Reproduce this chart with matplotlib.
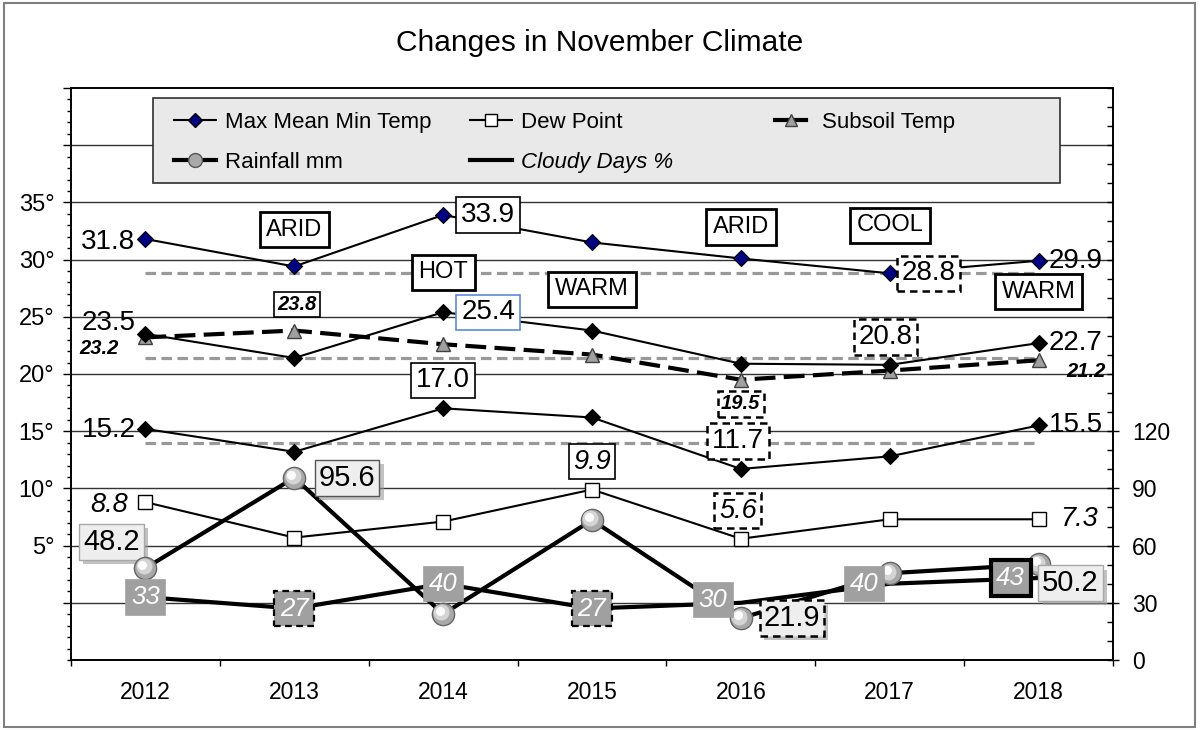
import matplotlib
matplotlib.use('Agg')
import matplotlib.pyplot as plt
from matplotlib.lines import Line2D
from matplotlib.patches import Rectangle
from matplotlib.ticker import FixedLocator, MultipleLocator, FuncFormatter, FixedFormatter, NullFormatter
from matplotlib.transforms import ScaledTranslation
import matplotlib.patheffects as pe

plt.rcParams['font.family'] = ['Liberation Sans', 'DejaVu Sans']

# ---------------- data ----------------
years = ['2012', '2013', '2014', '2015', '2016', '2017', '2018']
max_temp = [31.8, 29.4, 33.9, 31.5, 30.1, 28.8, 29.9]
mean_temp = [23.5, 21.4, 25.4, 23.8, 20.9, 20.8, 22.7]
min_temp = [15.2, 13.2, 17.0, 16.2, 11.7, 12.8, 15.5]
dew_point = [8.8, 5.7, 7.1, 9.9, 5.6, 7.3, 7.3]
subsoil = [23.2, 23.8, 22.6, 21.7, 19.5, 20.3, 21.2]
rainfall = [48.2, 95.6, 24.1, 73.4, 21.9, 45.5, 50.2]
cloudy = [33, 27, 40, 27, 30, 40, 43]
avg_max, avg_mean, avg_min = 28.8, 21.4, 14.0
conditions = ['', 'ARID', 'HOT', 'WARM', 'ARID', 'COOL', 'WARM']
left_ticks = [0, 5, 10, 15, 20, 25, 30, 35, 40, 45]
right_ticks = [0, 30, 60, 90, 120]

# ---------------- layout ----------------
W, H = 1200, 730
fig = plt.figure(figsize=(12, 7.3), dpi=100)
ax = fig.add_axes([71 / W, 70 / H, 1042 / W, 572 / H])
ax2 = ax.twinx()
x = list(range(len(years)))
ax.set_xlim(-0.5, len(years) - 0.5)
ax.set_ylim(-5, 45)
ax2.set_ylim(0, 300)

for a in (ax, ax2):
    for s in a.spines.values():
        s.set_linewidth(1.2)
        s.set_color('black')

for v in left_ticks[:-1]:
    ax.axhline(v, color='#333333', lw=1, zorder=0.5)

# left axis ticks
ax.yaxis.set_major_locator(FixedLocator(left_ticks))
ax.yaxis.set_major_formatter(FuncFormatter(lambda v, p: f"{int(v)}°" if 5 <= v <= 35 else ''))
ax.yaxis.set_minor_locator(MultipleLocator(1))
ax.tick_params(axis='y', which='major', direction='out', length=6, width=1, labelsize=17, pad=6, right=False)
ax.tick_params(axis='y', which='minor', direction='out', length=3, width=1, right=False)

# bottom ticks
ax.xaxis.set_major_locator(FixedLocator([i - 0.5 for i in range(len(years) + 1)]))
ax.xaxis.set_major_formatter(NullFormatter())
ax.xaxis.set_minor_locator(FixedLocator(x))
ax.xaxis.set_minor_formatter(FixedFormatter(years))
ax.tick_params(axis='x', which='major', direction='out', length=4.5, width=1)
ax.tick_params(axis='x', which='minor', length=0, pad=15, labelsize=16.5)

# right axis ticks
ax2.yaxis.set_major_locator(FixedLocator(right_ticks))
ax2.yaxis.set_minor_locator(MultipleLocator(10))
ax2.tick_params(axis='y', which='major', direction='inout', length=9, width=1, labelsize=16.5, pad=9)
ax2.tick_params(axis='y', which='minor', direction='in', length=4.5, width=1)

# ---------------- series ----------------
for avg in (avg_max, avg_mean, avg_min):
    ax.plot([x[0], x[-1]], [avg, avg], color='#999999', lw=2.3, dashes=(3.3, 1.7), zorder=1)

ax.plot(x, subsoil, color='black', lw=3, dashes=(5, 2), marker='^', ms=10,
        mfc='#a0a0a0', mec='#404040', mew=1, zorder=2.5)
ax.plot(x, dew_point, color='black', lw=1.5, marker='s', ms=10.5, mfc='white', mec='black', mew=1, zorder=3)
ax.plot(x, max_temp, color='black', lw=1.5, marker='D', ms=8, mfc='#000080', mec='black', mew=0.8, zorder=3)
ax.plot(x, mean_temp, color='black', lw=1.5, marker='D', ms=8, mfc='black', mec='black', mew=0.8, zorder=3)
ax.plot(x, min_temp, color='black', lw=1.5, marker='D', ms=8, mfc='black', mec='black', mew=0.8, zorder=3)

ax2.plot(x, cloudy, color='black', lw=3, zorder=2)
ax2.plot(x, rainfall, color='black', lw=3, zorder=3)
ax2.plot(x, rainfall, ls='none', marker='o', ms=16, mfc='#a8a8a8', mec='#666666', mew=1, zorder=4)
ax2.plot(x, rainfall, ls='none', marker='o', ms=11.5, mfc='#d4d4d4', mec='none', zorder=4.1,
         transform=ax2.transData + ScaledTranslation(-1.2 / 72, 1.2 / 72, fig.dpi_scale_trans))
ax2.plot(x, rainfall, ls='none', marker='o', ms=6.5, mfc='#fbfbfb', mec='none', zorder=4.2,
         transform=ax2.transData + ScaledTranslation(-2.2 / 72, 2.2 / 72, fig.dpi_scale_trans))

# ---------------- labels ----------------
def box(kind):
    if kind == 'solid':
        return dict(boxstyle='square,pad=0.17', fc='white', ec='black', lw=1.2)
    if kind == 'dashed':
        return dict(boxstyle='square,pad=0.17', fc='white', ec='black', lw=1.8, ls=(0, (3, 2)))
    if kind == 'blue':
        return dict(boxstyle='square,pad=0.17', fc='white', ec='#5b8bd8', lw=1.2)
    return None


def tag(a, i, v, text, dx, dy, size, kind=None, ha='center', **kw):
    return a.annotate(text, (x[i], v), xytext=(dx, dy), textcoords='offset pixels',
                      ha=ha, va='center', fontsize=size, bbox=box(kind),
                      annotation_clip=False, zorder=6, **kw)


# (index, dx, dy, box kind, ha)
max_tags = [(0, -10, -3, None, 'right'), (2, 45, 0, 'solid', 'center'),
            (5, 39, 0, 'dashed', 'center'), (6, 10, 0, None, 'left')]
mean_tags = [(0, -10, 11, None, 'right'), (2, 45, 0, 'blue', 'center'),
             (5, -4, 28, 'dashed', 'center'), (6, 10, 0, None, 'left')]
min_tags = [(0, -10, -1, None, 'right'), (2, 0, 28, 'solid', 'center'),
            (4, -3, 28, 'dashed', 'center'), (6, 10, 0, None, 'left')]
dew_tags = [(0, -17, -3, None, 'right'), (3, 0, 28, 'solid', 'center'),
            (4, -3, 28, 'dashed', 'center'), (6, 22, 0, None, 'left')]
sub_tags = [(0, -27, -11, None, 'right'), (1, 3, 26, 'solid', 'center'),
            (4, 0, -24, 'dashed', 'center'), (6, 28, -11, None, 'left')]

for series, tags in ((max_temp, max_tags), (mean_temp, mean_tags), (min_temp, min_tags)):
    for i, dx, dy, kind, ha in tags:
        tag(ax, i, series[i], f"{series[i]:.1f}", dx, dy, 20, kind, ha)
for i, dx, dy, kind, ha in dew_tags:
    tag(ax, i, dew_point[i], f"{dew_point[i]:.1f}", dx, dy, 19.5, kind, ha, fontstyle='italic')
for i, dx, dy, kind, ha in sub_tags:
    tag(ax, i, subsoil[i], f"{subsoil[i]:.1f}", dx, dy, 14.5, kind, ha,
        fontstyle='italic', fontweight='bold')

# rainfall labels with shadow
rain_tags = [(0, -34, 26, '#a8a8a8', 1.0, '-'), (1, 53, 0, '#555555', 1.0, '-'),
             (4, 51, 0, 'black', 1.8, (0, (3, 2))), (6, 32, -19, '#a8a8a8', 1.0, '-')]
for i, dx, dy, ec, lw, ls in rain_tags:
    t = ax2.annotate(f"{rainfall[i]:.1f}", (x[i], rainfall[i]), xytext=(dx, dy),
                     textcoords='offset pixels', ha='center', va='center', fontsize=21,
                     zorder=6 if i else 3.5, annotation_clip=False,
                     bbox=dict(boxstyle='square,pad=0.13', fc='#eeeeee', ec=ec, lw=lw, ls=ls))
    t.get_bbox_patch().set_path_effects([
        pe.SimplePatchShadow(offset=(3, -3), shadow_rgbFace='#9a9a9a', alpha=0.6), pe.Normal()])

# cloudy labels (gray boxes)
cloud_tags = [(0, 0, 0, 'none', 0), (1, 0, 0, 'dashed', 1.6), (2, 0, 0, 'none', 0),
              (3, 0, 0, 'dashed', 1.6), (4, -28, 3, 'none', 0), (5, -26, 0, 'none', 0),
              (6, -28, 0, 'thick', 3)]
for i, dx, dy, kind, lw in cloud_tags:
    if kind == 'dashed':
        b = dict(boxstyle='square,pad=0.22', fc='#a0a0a0', ec='black', lw=lw, ls=(0, (3, 2)))
    elif kind == 'thick':
        b = dict(boxstyle='square,pad=0.22', fc='#a0a0a0', ec='black', lw=lw)
    else:
        b = dict(boxstyle='square,pad=0.22', fc='#a0a0a0', ec='#a0a0a0', lw=0.5)
    ax2.annotate(f"{cloudy[i]}", (x[i], cloudy[i]), xytext=(dx, dy), textcoords='offset pixels',
                 ha='center', va='center', fontsize=18.5, color='white', fontstyle='italic',
                 zorder=5, annotation_clip=False, bbox=b)

# condition words
cond_level = [None, 32.6, 28.9, 27.4, 32.85, 33.0, 27.2]
for i, word in enumerate(conditions):
    if word:
        ax.text(x[i], cond_level[i], word, ha='center', va='center', fontsize=17,
                zorder=6, bbox=dict(boxstyle='square,pad=0.28', fc='white', ec='black', lw=2))

# ---------------- title, legend, border ----------------
fig.text(0.5, 1 - 43 / H, 'Changes in November Climate', ha='center', va='center', fontsize=21.5)

fig.add_artist(Rectangle((153 / W, 1 - 183 / H), 907 / W, 85 / H, transform=fig.transFigure,
                         fc='#e9e9e9', ec='#303030', lw=1.2, zorder=4))

h_temp = Line2D([], [], color='black', lw=1.5, marker='D', ms=7, mfc='#000080', mec='black')
h_rain = Line2D([], [], color='black', lw=3, marker='o', ms=10, mfc='#a8a8a8', mec='#555555')
h_dew = Line2D([], [], color='black', lw=1.5, marker='s', ms=8, mfc='white', mec='black')
h_cloud = Line2D([], [], color='black', lw=3)
h_sub = Line2D([], [], color='black', lw=3, marker='^', ms=9, mfc='#a0a0a0', mec='#404040')

common = dict(loc='upper left', frameon=False, fontsize=16, labelspacing=0.85,
              borderpad=0, borderaxespad=0)
leg1 = fig.legend([h_temp, h_rain], ['Max Mean Min Temp', 'Rainfall mm'],
                  bbox_to_anchor=(174 / W, 1 - 112 / H), handlelength=1.9, handletextpad=0.4, **common)
leg2 = fig.legend([h_dew, h_cloud], ['Dew Point', 'Cloudy Days %'],
                  bbox_to_anchor=(470 / W, 1 - 112 / H), handlelength=1.9, handletextpad=0.4, **common)
leg2.get_texts()[1].set_fontstyle('italic')
leg3 = fig.legend([h_sub], ['Subsoil Temp'],
                  bbox_to_anchor=(775 / W, 1 - 112 / H), handlelength=1.4, handletextpad=0.7, **common)
for lg in (leg1, leg2, leg3):
    lg.set_zorder(5)

fig.add_artist(Rectangle((4 / W, 3 / H), 1191 / W, 724 / H, transform=fig.transFigure,
                         fill=False, ec='#7f7f7f', lw=1.5, zorder=10))

fig.savefig('out.png', dpi=100)
